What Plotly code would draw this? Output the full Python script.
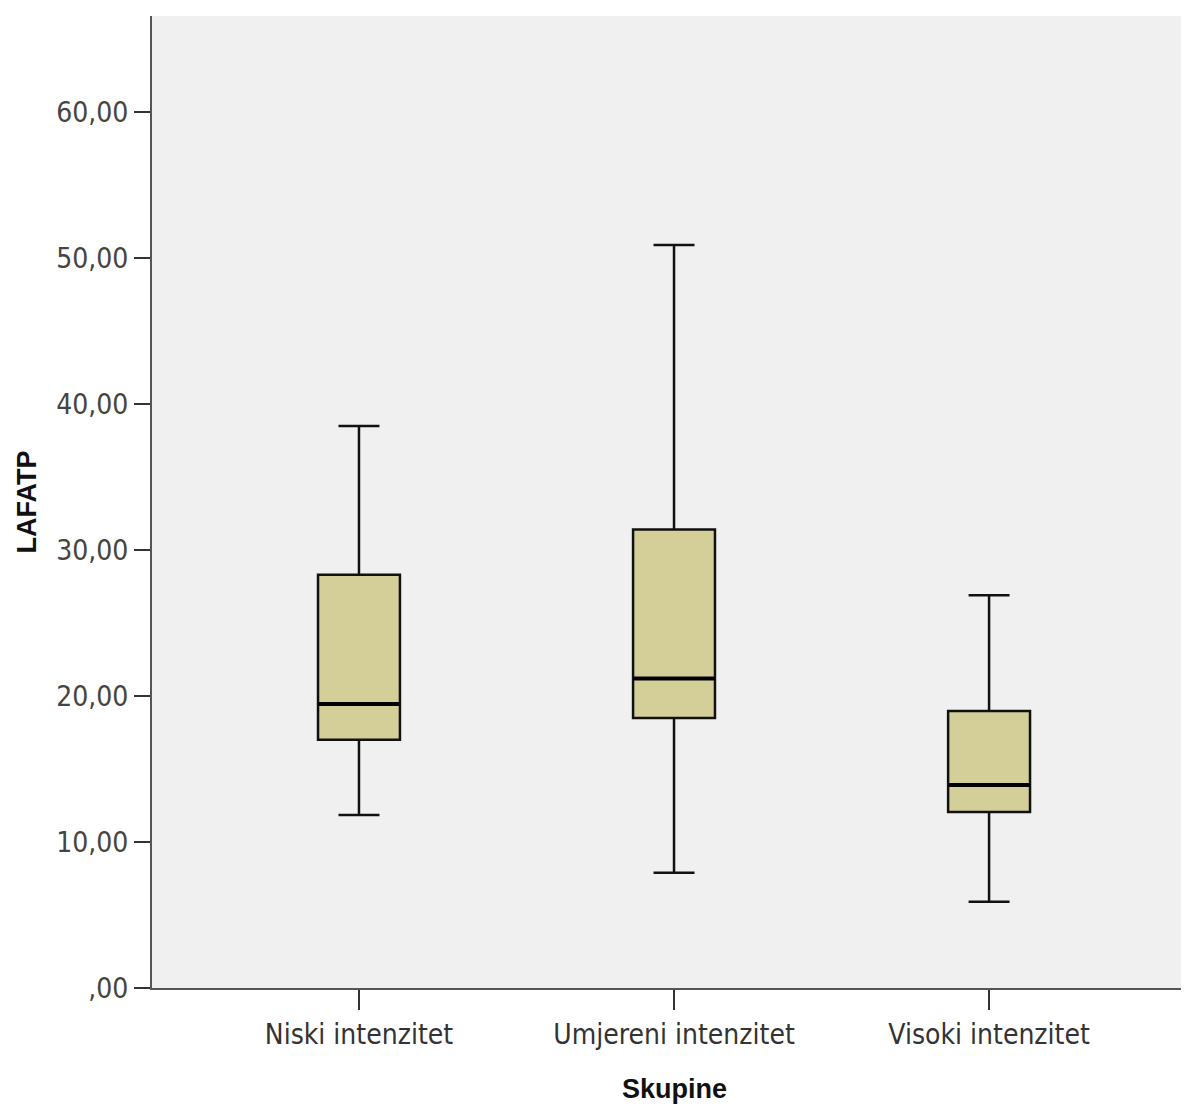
import plotly.graph_objects as go

categories = ["Niski intenzitet", "Umjereni intenzitet", "Visoki intenzitet"]
lower_whisker = [11.85, 7.9, 5.9]
q1_values = [17.0, 18.5, 12.05]
median_values = [19.45, 21.2, 13.9]
q3_values = [28.3, 31.4, 18.97]
upper_whisker = [38.5, 50.9, 26.9]

y_tick_values = [0, 10, 20, 30, 40, 50, 60]
y_tick_labels = [",00", "10,00", "20,00", "30,00", "40,00", "50,00", "60,00"]

box_width = 0.26
fill_color = "#d4cf98"
tick_font = "Liberation Sans Narrow, Arial Narrow, DejaVu Sans Condensed, sans-serif"

fig = go.Figure()
for i, cat in enumerate(categories):
    fig.add_trace(go.Box(
        x=[i], q1=[q1_values[i]], median=[median_values[i]], q3=[q3_values[i]],
        lowerfence=[lower_whisker[i]], upperfence=[upper_whisker[i]],
        width=box_width, whiskerwidth=0.5,
        fillcolor=fill_color, line=dict(color="#111111", width=2.5),
        boxpoints=False, name=cat, showlegend=False, hoverinfo="skip",
    ))
    fig.add_trace(go.Scatter(
        x=[i - box_width / 2, i + box_width / 2], y=[median_values[i], median_values[i]],
        mode="lines", line=dict(color="#000000", width=4),
        showlegend=False, hoverinfo="skip",
    ))

fig.update_layout(
    width=1189, height=1101,
    margin=dict(l=144, r=0, t=8, b=121),
    paper_bgcolor="white", plot_bgcolor="#f0f0f0",
    font=dict(family=tick_font, color="#333333"),
)
fig.update_xaxes(
    range=[-0.657, 2.660], tickvals=list(range(len(categories))), ticktext=categories,
    ticks="outside", ticklen=20, tickwidth=2, tickcolor="#333333",
    showline=True, linecolor="#555555", linewidth=2, showgrid=False, zeroline=False,
    tickfont=dict(size=28, family=tick_font, color="#333333"),
    title=dict(text="<b>Skupine</b>", font=dict(size=27, family="Liberation Sans, Arial, sans-serif", color="#111111"), standoff=30),
)
fig.update_yaxes(
    range=[0, 66.58], tickvals=y_tick_values, ticktext=y_tick_labels,
    ticks="outside", ticklen=16, tickwidth=2, tickcolor="#333333",
    showline=True, linecolor="#555555", linewidth=2, showgrid=False, zeroline=False,
    tickfont=dict(size=28, family=tick_font, color="#444444"),
    title=dict(text="<b>LAFATP</b>", font=dict(size=27, family="Liberation Sans, Arial, sans-serif", color="#111111"), standoff=12),
)

fig.write_html("out.html")
